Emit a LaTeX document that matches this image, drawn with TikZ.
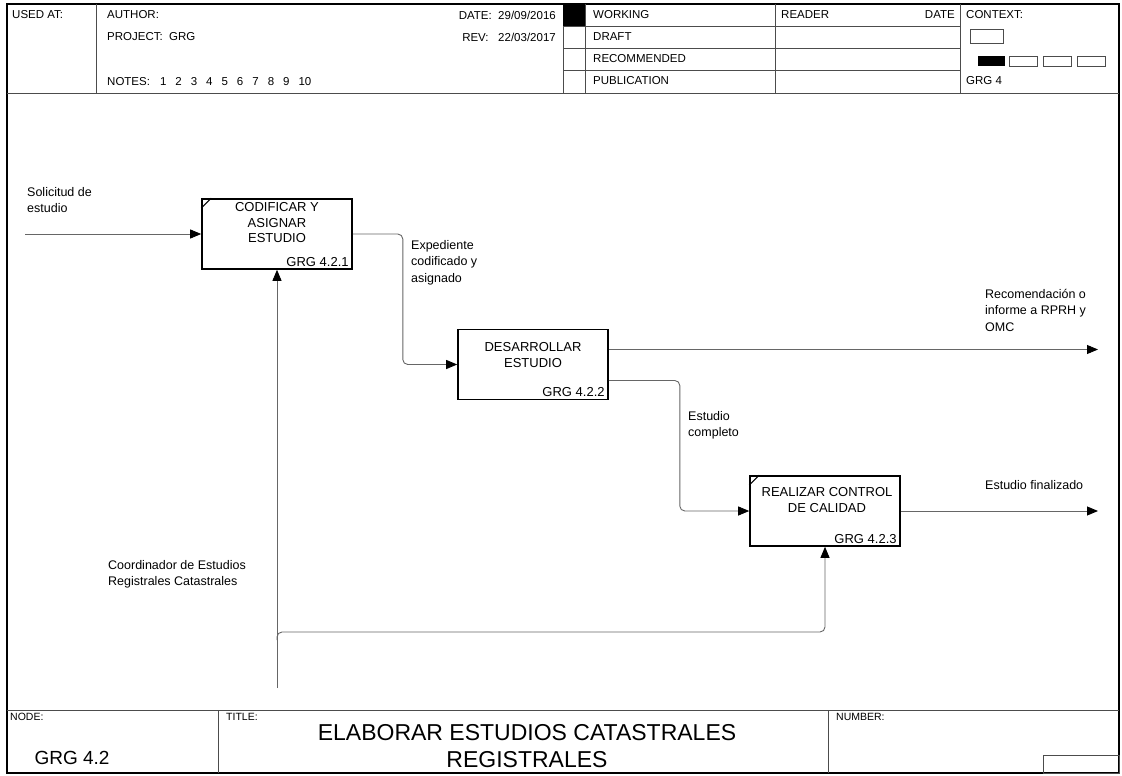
\documentclass[tikz,border=0pt]{standalone}
\usepackage{fontspec}
\setmainfont{Liberation Sans}
\usetikzlibrary{arrows.meta}

\tikzset{
  actbox/.style={draw,line width=1.6pt,minimum width=150pt,minimum height=70pt,inner sep=0pt},
  boxtxt/.style={align=center,inner sep=0pt,font=\fontsize{13}{15.5}\selectfont},
  boxnum/.style={inner sep=0pt,anchor=south east,font=\fontsize{13}{14}\selectfont},
  flow/.style={draw=black!60,line width=0.9pt,rounded corners=5pt,-{Triangle[length=11pt,width=9pt,color=black]}},
  lbl/.style={align=left,anchor=north west,inner sep=0pt,font=\fontsize{12.5}{16.5}\selectfont},
  hdr/.style={anchor=west,inner sep=0pt,font=\fontsize{11.5}{13}\selectfont},
  tiny/.style={anchor=north west,inner sep=0pt,font=\fontsize{10.5}{12}\selectfont},
  frame/.style={draw=black!70,line width=0.8pt}
}

\begin{document}
\begin{tikzpicture}[x=1pt,y=-1pt]
  \useasboundingbox (0,0) rectangle (1122,776);
  % sheet frame
  \draw[line width=1.4pt] (7,4) rectangle (1119,773);
  \draw[frame] (7,93) -- (1119,93);
  \draw[frame] (7,710) -- (1119,710);
  \foreach \x in {96,563,585,775,960} \draw[frame] (\x,4) -- (\x,93);
  \foreach \y in {26,48,70} \draw[frame] (563,\y) -- (960,\y);
  \fill (563,4) rectangle (585,26);
  \draw[frame] (218,710) -- (218,773);
  \draw[frame] (828,710) -- (828,773);
  \draw[frame] (1043,755) rectangle (1119,773);

  % header
  \node[hdr] at (12,15) {USED AT:};
  \node[hdr] at (107,15) {AUTHOR:};
  \node[hdr] at (107,37) {PROJECT:\ \ GRG};
  \node[hdr] at (107,82) {NOTES:\hspace{10pt}1\hspace{9pt}2\hspace{9pt}3\hspace{9pt}4\hspace{9pt}5\hspace{9pt}6\hspace{9pt}7\hspace{9pt}8\hspace{9pt}9\hspace{9pt}10};
  \node[hdr,anchor=east] at (556,15) {DATE:\ \ 29/09/2016};
  \node[hdr,anchor=east] at (556,37) {REV:\ \ \ 22/03/2017};
  \node[hdr] at (593,15) {WORKING};
  \node[hdr] at (593,37) {DRAFT};
  \node[hdr] at (593,59) {RECOMMENDED};
  \node[hdr] at (593,81) {PUBLICATION};
  \node[hdr] at (781,15) {READER};
  \node[hdr,anchor=east] at (955,15) {DATE};
  \node[hdr] at (966,15) {CONTEXT:};
  \node[hdr] at (966,81) {GRG 4};
  \draw[frame] (970,29) rectangle (1003,43);
  \fill (978,56) rectangle (1005,66);
  \foreach \x in {1009,1043,1077} \draw[frame] (\x,56) rectangle ++(28,10);

  % activities
  \node[actbox] (cod) at (277,234) {};
  \node[boxtxt] at (277,223) {CODIFICAR Y\\ASIGNAR\\ESTUDIO};
  \node[boxnum] at ([xshift=-4pt,yshift=3pt]cod.south east) {GRG 4.2.1};
  \draw[line width=1pt] ([yshift=-10pt]cod.north west) -- ([xshift=10pt]cod.north west);

  \node[actbox] (des) at (533,364.5) {};
  \node[boxtxt] at (533,355) {DESARROLLAR\\ESTUDIO};
  \node[boxnum] at ([xshift=-4pt,yshift=3pt]des.south east) {GRG 4.2.2};

  \node[actbox] (rea) at (825,511) {};
  \node[boxtxt] at (827,500) {REALIZAR CONTROL\\DE CALIDAD};
  \node[boxnum] at ([xshift=-4pt,yshift=3pt]rea.south east) {GRG 4.2.3};
  \draw[line width=1pt] ([yshift=-10pt]rea.north west) -- ([xshift=10pt]rea.north west);

  % arrows
  \coordinate (in1) at (25,234);
  \coordinate (out1) at (1098,349.5);
  \coordinate (out2) at (1098,511);
  \coordinate (mec) at (277,688);
  \coordinate (mj) at (277,640);
  \draw[flow] (in1) -- (cod.west);
  \draw[flow] (cod.east) -- ++(50,0) |- (des.west);
  \draw[flow] ([yshift=15pt]des.east) -- (out1);
  \draw[flow] ([yshift=-16pt]des.east) -- ++(71,0) |- (rea.west);
  \draw[flow] (rea.east) -- (out2);
  \draw[flow] (mec) -- (cod.south);
  \draw[flow] (mj) -- ++(0,-8) -| (rea.south);

  % labels
  \node[lbl] at (27,187) {Solicitud de\\estudio};
  \node[lbl] at (411,240) {Expediente\\codificado y\\asignado};
  \node[lbl] at (985,289) {Recomendación o\\informe a RPRH y\\OMC};
  \node[lbl] at (688,411) {Estudio\\completo};
  \node[lbl] at (985,480) {Estudio finalizado};
  \node[lbl] at (108,560) {Coordinador de Estudios\\Registrales Catastrales};

  % footer
  \node[tiny] at (10,713) {NODE:};
  \node[tiny] at (226,713) {TITLE:};
  \node[tiny] at (836,713) {NUMBER:};
  \node[inner sep=0pt,font=\fontsize{19}{22}\selectfont] (nd) at (72,758) {GRG 4.2};
  \node[align=center,inner sep=0pt,font=\fontsize{23}{27}\selectfont] (tt) at (527,746) {ELABORAR ESTUDIOS CATASTRALES\\REGISTRALES};
\end{tikzpicture}
\end{document}
